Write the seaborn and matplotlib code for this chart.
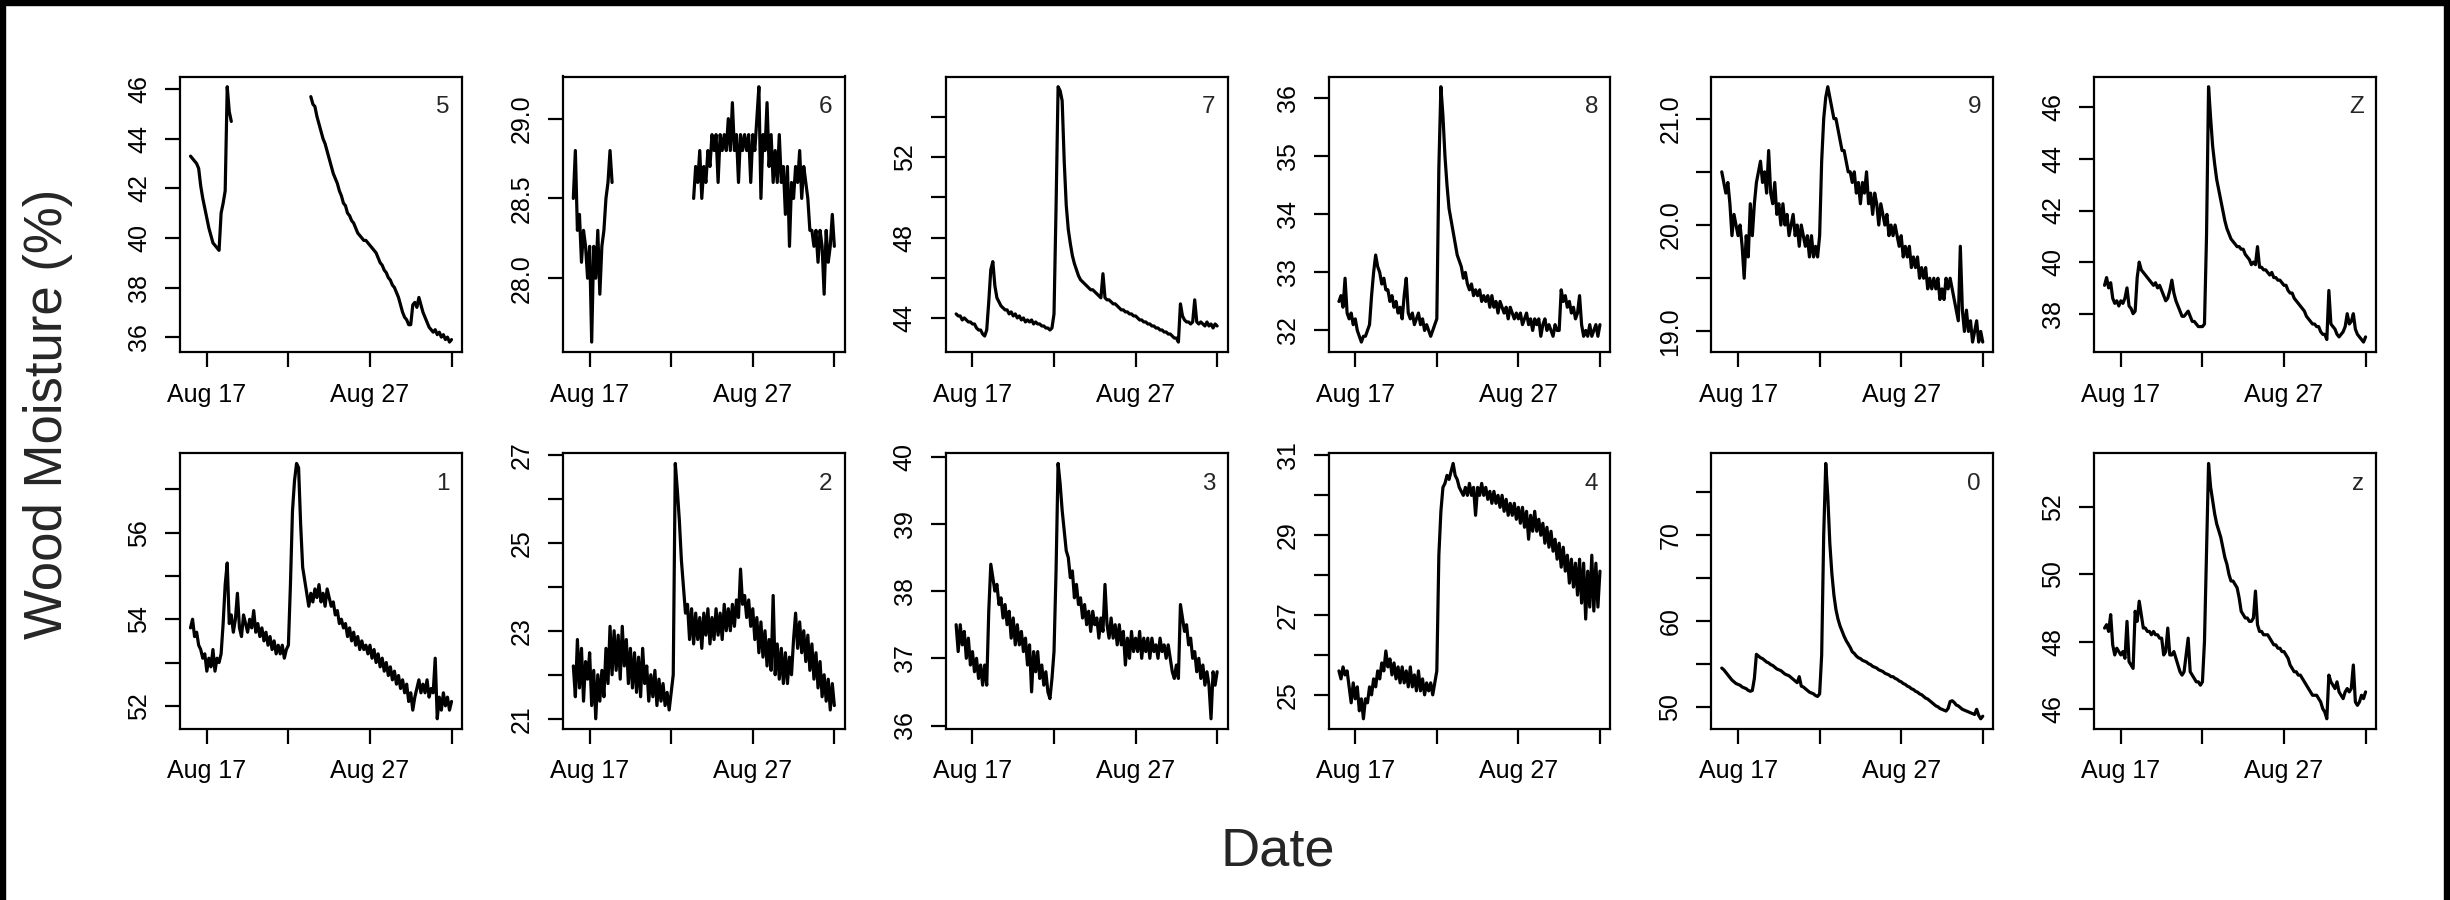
import numpy as np
import pandas as pd
import seaborn as sns
import matplotlib.pyplot as plt
from matplotlib.patches import Rectangle

nan = np.nan

# Sample times: one reading every 3 hours, Aug 16 to Sep 1
start_time = '2015-08-16 00:00'
end_time = '2015-09-01 00:00'
step = '3h'

# Wood moisture (%) per sensor, one row of 8 readings per day
sensor_5 = [
    43.3, 43.2, 43.1, 43.0, 42.8, 42.1, 41.6, 41.2,
    40.8, 40.4, 40.1, 39.8, 39.7, 39.6, 39.5, 41.0,
    41.4, 41.9, 46.1, 45.1, 44.7, nan, nan, nan,
    nan, nan, nan, nan, nan, nan, nan, nan,
    nan, nan, nan, nan, nan, nan, nan, nan,
    nan, nan, nan, nan, nan, nan, nan, nan,
    nan, nan, nan, nan, nan, nan, nan, nan,
    nan, nan, nan, 45.7, 45.4, 45.3, 44.9, 44.6,
    44.3, 44.0, 43.8, 43.5, 43.2, 42.9, 42.6, 42.4,
    42.2, 41.9, 41.7, 41.4, 41.3, 41.0, 40.9, 40.7,
    40.6, 40.4, 40.2, 40.1, 40.0, 39.9, 39.9, 39.8,
    39.7, 39.6, 39.5, 39.4, 39.2, 39.0, 38.9, 38.7,
    38.6, 38.4, 38.3, 38.1, 38.0, 37.8, 37.6, 37.3,
    37.0, 36.8, 36.7, 36.5, 36.5, 37.3, 37.4, 37.2,
    37.6, 37.3, 37.0, 36.8, 36.6, 36.4, 36.3, 36.2,
    36.3, 36.1, 36.2, 36.0, 36.1, 35.9, 36.0, 35.8,
    35.9]

sensor_6 = [
    28.5, 28.8, 28.3, 28.4, 28.1, 28.3, 28.2, 28.0,
    28.2, 27.6, 28.2, 28.0, 28.3, 27.9, 28.2, 28.3,
    28.5, 28.6, 28.8, 28.6, nan, nan, nan, nan,
    nan, nan, nan, nan, nan, nan, nan, nan,
    nan, nan, nan, nan, nan, nan, nan, nan,
    nan, nan, nan, nan, nan, nan, nan, nan,
    nan, nan, nan, nan, nan, nan, nan, nan,
    nan, nan, nan, 28.5, 28.7, 28.6, 28.8, 28.5,
    28.7, 28.6, 28.8, 28.7, 28.9, 28.8, 28.9, 28.6,
    28.9, 28.8, 28.9, 28.8, 29.0, 28.8, 29.1, 28.8,
    28.9, 28.6, 28.9, 28.8, 28.9, 28.8, 28.9, 28.6,
    28.9, 28.8, 29.0, 29.2, 28.5, 28.9, 28.8, 29.1,
    28.7, 28.9, 28.6, 28.8, 28.6, 28.9, 28.6, 28.7,
    28.4, 28.7, 28.2, 28.6, 28.5, 28.7, 28.6, 28.8,
    28.5, 28.7, 28.6, 28.5, 28.3, 28.3, 28.2, 28.3,
    28.1, 28.3, 28.2, 27.9, 28.3, 28.1, 28.2, 28.4,
    28.2]

sensor_7 = [
    44.2, 44.1, 44.1, 43.9, 44.0, 43.9, 43.8, 43.8,
    43.7, 43.7, 43.5, 43.4, 43.4, 43.2, 43.1, 43.4,
    44.8, 46.4, 46.8, 45.6, 45.0, 44.8, 44.6, 44.5,
    44.4, 44.4, 44.2, 44.3, 44.1, 44.2, 44.0, 44.1,
    43.9, 44.0, 43.8, 43.9, 43.8, 43.9, 43.7, 43.8,
    43.7, 43.7, 43.6, 43.6, 43.5, 43.5, 43.4, 43.5,
    44.2, 49.5, 55.5, 55.3, 54.8, 51.8, 49.6, 48.4,
    47.7, 47.1, 46.7, 46.4, 46.1, 45.9, 45.8, 45.7,
    45.6, 45.5, 45.4, 45.4, 45.3, 45.2, 45.1, 45.0,
    46.2, 45.0, 44.9, 44.9, 44.8, 44.7, 44.7, 44.6,
    44.5, 44.4, 44.4, 44.3, 44.3, 44.2, 44.2, 44.1,
    44.1, 44.0, 43.9, 43.9, 43.8, 43.8, 43.7, 43.7,
    43.6, 43.6, 43.5, 43.5, 43.4, 43.4, 43.3, 43.3,
    43.2, 43.2, 43.1, 43.0, 43.0, 42.8, 44.7, 44.1,
    43.9, 43.8, 43.8, 43.7, 43.8, 44.9, 43.8, 43.7,
    43.8, 43.7, 43.6, 43.8, 43.6, 43.7, 43.5, 43.7,
    43.6]

sensor_8 = [
    32.5, 32.6, 32.4, 32.9, 32.3, 32.2, 32.3, 32.1,
    32.2, 32.0, 31.9, 31.8, 31.9, 31.9, 32.0, 32.1,
    32.6, 33.0, 33.3, 33.1, 33.0, 32.8, 32.9, 32.7,
    32.7, 32.5, 32.6, 32.4, 32.5, 32.3, 32.4, 32.2,
    32.6, 32.9, 32.3, 32.2, 32.3, 32.1, 32.2, 32.3,
    32.1, 32.2, 32.0, 32.1, 32.0, 31.9, 32.0, 32.1,
    32.2, 34.8, 36.2, 35.7, 35.0, 34.5, 34.1, 33.9,
    33.7, 33.5, 33.3, 33.2, 33.1, 32.9, 33.0, 32.8,
    32.7, 32.8, 32.6, 32.7, 32.6, 32.7, 32.5, 32.6,
    32.5, 32.6, 32.4, 32.6, 32.4, 32.5, 32.3, 32.5,
    32.4, 32.3, 32.4, 32.2, 32.4, 32.3, 32.2, 32.3,
    32.2, 32.3, 32.1, 32.2, 32.3, 32.1, 32.2, 32.0,
    32.2, 32.1, 32.2, 31.9, 32.1, 32.2, 32.0, 32.1,
    32.0, 31.9, 32.1, 32.0, 32.0, 32.7, 32.5, 32.6,
    32.4, 32.5, 32.3, 32.4, 32.2, 32.3, 32.6, 32.1,
    31.9, 32.0, 31.9, 32.1, 31.9, 32.0, 32.1, 31.9,
    32.1]

sensor_9 = [
    20.5, 20.4, 20.3, 20.4, 20.2, 19.9, 20.1, 20.0,
    19.9, 20.0, 19.8, 19.5, 19.9, 19.7, 20.2, 19.9,
    20.2, 20.4, 20.5, 20.6, 20.4, 20.5, 20.3, 20.7,
    20.3, 20.2, 20.4, 20.1, 20.2, 20.0, 20.2, 20.0,
    20.1, 19.9, 20.0, 20.1, 19.9, 20.0, 19.8, 20.0,
    19.9, 19.8, 19.9, 19.7, 19.9, 19.7, 19.8, 19.7,
    19.9, 20.6, 21.0, 21.2, 21.3, 21.2, 21.1, 21.0,
    21.0, 20.9, 20.8, 20.7, 20.7, 20.6, 20.5, 20.5,
    20.4, 20.5, 20.3, 20.4, 20.2, 20.4, 20.3, 20.5,
    20.2, 20.3, 20.1, 20.3, 20.2, 20.0, 20.2, 20.1,
    20.0, 20.1, 19.9, 20.0, 19.9, 20.0, 19.9, 19.8,
    19.9, 19.7, 19.8, 19.7, 19.8, 19.6, 19.7, 19.6,
    19.7, 19.5, 19.6, 19.5, 19.6, 19.4, 19.5, 19.4,
    19.5, 19.4, 19.5, 19.3, 19.4, 19.3, 19.5, 19.4,
    19.5, 19.4, 19.3, 19.2, 19.1, 19.8, 19.2, 19.0,
    19.2, 19.0, 19.1, 18.9, 19.0, 19.1, 18.9, 19.0,
    18.9]

sensor_Z = [
    39.1, 39.4, 39.0, 39.2, 38.6, 38.4, 38.5, 38.3,
    38.5, 38.4, 38.6, 39.0, 38.3, 38.2, 38.0, 38.1,
    39.4, 40.0, 39.7, 39.6, 39.5, 39.4, 39.3, 39.2,
    39.1, 39.2, 39.0, 39.1, 38.9, 38.7, 38.5, 38.6,
    38.9, 39.3, 38.8, 38.5, 38.3, 38.1, 37.9, 37.9,
    38.0, 38.1, 37.9, 37.7, 37.7, 37.6, 37.5, 37.5,
    37.5, 37.6, 41.0, 46.8, 45.6, 44.5, 43.8, 43.2,
    42.8, 42.4, 42.0, 41.6, 41.3, 41.1, 40.9, 40.8,
    40.7, 40.6, 40.6, 40.5, 40.5, 40.3, 40.2, 40.1,
    39.9, 40.0, 39.9, 40.6, 39.8, 39.8, 39.7, 39.7,
    39.6, 39.5, 39.6, 39.4, 39.4, 39.3, 39.3, 39.2,
    39.1, 39.1, 38.9, 38.8, 38.8, 38.6, 38.5, 38.4,
    38.3, 38.2, 38.1, 37.9, 37.8, 37.7, 37.6, 37.6,
    37.5, 37.5, 37.3, 37.2, 37.2, 37.0, 38.9, 37.6,
    37.5, 37.4, 37.2, 37.1, 37.2, 37.3, 37.5, 38.0,
    37.6, 37.7, 38.0, 37.4, 37.2, 37.1, 37.0, 36.9,
    37.1]

sensor_1 = [
    53.8, 54.0, 53.6, 53.7, 53.4, 53.3, 53.1, 53.2,
    52.8, 53.1, 52.9, 53.3, 52.8, 53.1, 53.0, 53.2,
    53.9, 54.8, 55.3, 53.9, 54.1, 53.7, 54.0, 54.6,
    53.8, 53.6, 54.1, 53.9, 53.7, 54.0, 53.8, 54.2,
    53.7, 53.9, 53.6, 53.8, 53.5, 53.7, 53.4, 53.6,
    53.3, 53.5, 53.2, 53.4, 53.2, 53.4, 53.1, 53.3,
    53.4, 54.8, 56.5, 57.2, 57.6, 57.5, 56.2, 55.2,
    54.9, 54.6, 54.3, 54.6, 54.4, 54.7, 54.5, 54.8,
    54.4, 54.6, 54.3, 54.7, 54.5, 54.3, 54.4, 54.1,
    54.2, 53.9, 54.0, 53.8, 53.9, 53.6, 53.8, 53.5,
    53.7, 53.4, 53.6, 53.3, 53.5, 53.3, 53.4, 53.2,
    53.4, 53.1, 53.3, 53.0, 53.2, 52.9, 53.1, 52.8,
    53.0, 52.7, 52.9, 52.6, 52.8, 52.5, 52.7, 52.4,
    52.6, 52.3, 52.5, 52.1, 52.3, 51.9, 52.2, 52.4,
    52.6, 52.3, 52.5, 52.3, 52.6, 52.2, 52.4, 52.3,
    53.1, 51.7, 52.2, 51.9, 52.3, 52.0, 52.2, 51.9,
    52.1]

sensor_2 = [
    22.2, 21.5, 22.8, 21.7, 22.6, 21.4, 22.3, 21.9,
    22.5, 21.3, 22.1, 21.0, 22.0, 21.4, 22.1, 21.5,
    22.6, 21.8, 23.1, 22.0, 23.0, 22.1, 22.9, 21.9,
    23.1, 22.2, 22.8, 21.8, 22.6, 21.7, 22.5, 21.6,
    22.4, 21.5, 22.6, 21.8, 22.2, 21.4, 22.0, 21.5,
    22.1, 21.3, 21.9, 21.4, 21.8, 21.3, 21.6, 21.2,
    21.6, 22.0, 26.8, 26.2, 25.5, 24.6, 24.0, 23.4,
    23.6, 22.8, 23.5, 22.7, 23.4, 22.8, 23.3, 22.6,
    23.4, 22.9, 23.5, 22.7, 23.3, 22.8, 23.5, 22.9,
    23.4, 22.8, 23.6, 23.0, 23.5, 23.0, 23.6, 23.1,
    23.7, 23.3, 24.4, 23.6, 23.8, 23.3, 23.7, 23.1,
    23.5, 22.8, 23.3, 22.5, 23.2, 22.4, 23.0, 22.2,
    22.8, 22.1, 23.8, 22.0, 22.7, 21.9, 22.6, 21.8,
    22.5, 21.8, 22.4, 22.0, 22.8, 23.4, 22.6, 23.2,
    22.5, 23.0, 22.3, 22.9, 22.1, 22.7, 21.9, 22.5,
    21.7, 22.3, 21.5, 22.0, 21.4, 21.9, 21.2, 21.8,
    21.3]

sensor_3 = [
    37.5, 37.1, 37.5, 37.2, 37.4, 37.0, 37.3, 36.9,
    37.1, 36.8, 37.0, 36.7, 36.9, 36.6, 36.9, 36.6,
    37.7, 38.4, 38.2, 38.0, 38.1, 37.8, 37.9, 37.6,
    37.8, 37.5, 37.7, 37.3, 37.6, 37.2, 37.5, 37.2,
    37.4, 37.1, 37.3, 36.9, 37.2, 36.5, 37.1, 36.8,
    37.1, 36.7, 36.9, 36.6, 36.8, 36.5, 36.4, 36.7,
    37.1, 38.3, 39.9, 39.6, 39.2, 38.9, 38.6, 38.5,
    38.2, 38.3, 37.9, 38.1, 37.8, 37.9, 37.6, 37.8,
    37.5, 37.7, 37.4, 37.7, 37.5, 37.6, 37.3, 37.6,
    37.4, 38.1, 37.5, 37.3, 37.6, 37.3, 37.5, 37.2,
    37.5, 37.2, 37.4, 36.9, 37.3, 37.0, 37.4, 37.1,
    37.3, 37.1, 37.4, 37.0, 37.3, 37.1, 37.3, 37.0,
    37.3, 37.1, 37.2, 37.0, 37.3, 37.1, 37.2, 37.0,
    37.2, 37.0, 36.8, 36.7, 36.9, 36.7, 37.8, 37.6,
    37.4, 37.5, 37.2, 37.3, 37.0, 37.1, 36.8, 37.0,
    36.7, 36.9, 36.6, 36.8, 36.6, 36.1, 36.8, 36.6,
    36.8]

sensor_4 = [
    25.6, 25.4, 25.7, 25.5, 25.6, 25.2, 24.8, 25.3,
    24.9, 25.2, 24.6, 24.9, 24.4, 24.9, 24.8, 25.2,
    25.0, 25.4, 25.2, 25.6, 25.4, 25.8, 25.6, 26.1,
    25.7, 25.9, 25.5, 25.8, 25.4, 25.7, 25.3, 25.7,
    25.3, 25.6, 25.2, 25.7, 25.2, 25.5, 25.1, 25.6,
    25.1, 25.4, 25.0, 25.3, 25.1, 25.3, 25.0, 25.3,
    25.6, 28.5, 29.6, 30.2, 30.3, 30.5, 30.4, 30.6,
    30.8, 30.5, 30.4, 30.2, 30.1, 30.0, 30.2, 30.0,
    30.3, 30.0, 30.2, 29.5, 30.2, 30.0, 30.3, 30.0,
    30.2, 29.9, 30.1, 29.8, 30.1, 29.8, 30.0, 29.7,
    30.0, 29.6, 29.9, 29.5, 29.8, 29.5, 29.8, 29.4,
    29.7, 29.3, 29.7, 29.2, 29.6, 28.9, 29.5, 29.1,
    29.6, 29.1, 29.4, 29.0, 29.3, 28.8, 29.2, 28.7,
    29.1, 28.6, 28.9, 28.4, 28.8, 28.2, 28.7, 28.1,
    28.5, 27.8, 28.4, 27.7, 28.3, 27.5, 28.4, 27.3,
    28.3, 26.9, 28.1, 27.2, 28.5, 27.1, 28.3, 27.2,
    28.1]

sensor_0 = [
    54.5, 54.3, 54.0, 53.7, 53.4, 53.1, 52.9, 52.7,
    52.6, 52.5, 52.3, 52.2, 52.1, 51.9, 51.8, 51.9,
    53.3, 56.1, 55.9, 55.7, 55.6, 55.4, 55.2, 55.1,
    54.9, 54.8, 54.6, 54.4, 54.3, 54.2, 54.0, 53.8,
    53.7, 53.6, 53.4, 53.2, 53.0, 52.8, 53.5, 52.4,
    52.3, 52.1, 51.9, 51.7, 51.6, 51.5, 51.3, 51.2,
    51.5, 56.0, 70.0, 78.3, 74.5, 69.0, 65.5, 63.0,
    61.3, 60.2, 59.4, 58.8, 58.2, 57.7, 57.3, 56.9,
    56.4, 56.2, 55.9, 55.7, 55.6, 55.4, 55.3, 55.2,
    55.0, 54.9, 54.7, 54.6, 54.5, 54.3, 54.2, 54.1,
    53.9, 53.8, 53.7, 53.5, 53.5, 53.3, 53.2, 53.0,
    52.9, 52.7, 52.6, 52.4, 52.3, 52.1, 52.0, 51.8,
    51.7, 51.5, 51.4, 51.2, 51.0, 50.9, 50.7, 50.5,
    50.3, 50.1, 50.0, 49.8, 49.7, 49.6, 49.5, 49.8,
    50.6, 50.7, 50.5, 50.2, 50.1, 49.9, 49.7, 49.6,
    49.5, 49.4, 49.3, 49.2, 49.1, 49.7, 49.0, 48.6,
    48.9]

sensor_z = [
    48.4, 48.5, 48.3, 48.8, 47.9, 47.6, 47.8, 47.7,
    47.6, 47.7, 47.5, 48.6, 47.4, 47.3, 47.2, 48.9,
    48.6, 49.2, 48.8, 48.4, 48.4, 48.3, 48.3, 48.2,
    48.3, 48.2, 48.2, 48.1, 48.1, 47.6, 47.7, 48.4,
    47.6, 47.6, 47.7, 47.5, 47.3, 47.1, 47.0, 47.1,
    47.6, 48.1, 47.1, 47.0, 46.9, 46.8, 46.8, 46.7,
    46.8, 48.0, 50.6, 53.3, 52.6, 52.2, 51.8, 51.5,
    51.3, 51.1, 50.8, 50.5, 50.3, 50.0, 49.8, 49.8,
    49.7, 49.6, 49.3, 48.9, 48.8, 48.7, 48.7, 48.6,
    48.6, 48.7, 49.5, 48.5, 48.3, 48.3, 48.2, 48.2,
    48.2, 48.1, 48.0, 47.9, 47.9, 47.8, 47.8, 47.7,
    47.7, 47.6, 47.5, 47.3, 47.2, 47.1, 47.1, 47.0,
    47.0, 46.9, 46.8, 46.7, 46.6, 46.5, 46.4, 46.4,
    46.4, 46.3, 46.2, 46.0, 45.9, 45.7, 47.0, 46.8,
    46.7, 46.6, 46.8, 46.5, 46.4, 46.3, 46.5, 46.6,
    46.5, 46.6, 47.3, 46.2, 46.1, 46.2, 46.4, 46.3,
    46.5]

panel_labels = ['5', '6', '7', '8', '9', 'Z', '1', '2', '3', '4', '0', 'z']

# y ticks per panel and their printed labels (R skips some labels)
y_ticks = [
    [36, 38, 40, 42, 44, 46],
    [28.0, 28.5, 29.0],
    [44, 46, 48, 50, 52, 54],
    [32, 33, 34, 35, 36],
    [19.0, 19.5, 20.0, 20.5, 21.0],
    [38, 40, 42, 44, 46],
    [52, 53, 54, 55, 56, 57],
    [21, 22, 23, 24, 25, 26, 27],
    [36, 37, 38, 39, 40],
    [25, 26, 27, 28, 29, 30, 31],
    [50, 55, 60, 65, 70, 75],
    [46, 48, 50, 52],
]
y_tick_labels = [
    ['36', '38', '40', '42', '44', '46'],
    ['28.0', '28.5', '29.0'],
    ['44', '', '48', '', '52', ''],
    ['32', '33', '34', '35', '36'],
    ['19.0', '', '20.0', '', '21.0'],
    ['38', '40', '42', '44', '46'],
    ['52', '', '54', '', '56', ''],
    ['21', '', '23', '', '25', '', '27'],
    ['36', '37', '38', '39', '40'],
    ['25', '', '27', '', '29', '', '31'],
    ['50', '', '60', '', '70', ''],
    ['46', '48', '50', '52'],
]

x_tick_dates = ['2015-08-17', '2015-08-22', '2015-08-27', '2015-09-01']
x_tick_labels = ['Aug 17', '', 'Aug 27', '']

series = [sensor_5, sensor_6, sensor_7, sensor_8, sensor_9, sensor_Z,
          sensor_1, sensor_2, sensor_3, sensor_4, sensor_0, sensor_z]

times = pd.date_range(start_time, end_time, freq=step)

sns.set_style('ticks')
plt.rcParams['font.family'] = ['Liberation Sans', 'DejaVu Sans']
plt.rcParams['axes.edgecolor'] = 'black'
plt.rcParams['axes.linewidth'] = 1.6

fig, axes = plt.subplots(2, 6, figsize=(24.5, 9), dpi=100)
fig.subplots_adjust(left=0.0735, right=0.9698, bottom=0.19, top=0.915,
                    wspace=0.358, hspace=0.366)

for ax, label, values, ticks, tlabels in zip(axes.flat, panel_labels, series,
                                             y_ticks, y_tick_labels):
    df = pd.DataFrame({'time': times, 'moisture': values})
    # split the record where readings are missing
    df['segment'] = df['moisture'].isna().cumsum()
    df = df.dropna()
    sns.lineplot(data=df, x='time', y='moisture', units='segment',
                 estimator=None, color='black', linewidth=2.3, ax=ax)
    ax.margins(x=0.04, y=0.04)
    ax.set_xlabel('')
    ax.set_ylabel('')
    ax.set_xticks(pd.to_datetime(x_tick_dates))
    ax.set_xticklabels(x_tick_labels)
    ax.set_yticks(ticks)
    ax.set_yticklabels(tlabels)
    ax.tick_params(axis='both', direction='out', length=10.8, width=1.6,
                   labelsize=18, color='black', labelcolor='black')
    ax.tick_params(axis='x', pad=11)
    ax.tick_params(axis='y', pad=10)
    plt.setp(ax.get_yticklabels(), rotation=90, va='center')
    for side in ax.spines.values():
        side.set_visible(True)
        side.set_linewidth(1.6)
    ax.text(0.957, 0.89, label, transform=ax.transAxes, ha='right',
            va='center', fontsize=17.5)

fig.text(0.0195, 0.54, 'Wood Moisture (%)', rotation=90, ha='center',
         va='center', fontsize=38)
fig.text(0.5216, 0.054, 'Date', ha='center', va='center', fontsize=39)

# black frame strips along the image edges
fig.add_artist(Rectangle((0, 0), 5 / 2450, 1, transform=fig.transFigure,
                         color='black'))
fig.add_artist(Rectangle((1 - 6 / 2450, 0), 6 / 2450, 1,
                         transform=fig.transFigure, color='black'))
fig.add_artist(Rectangle((0, 1 - 5 / 900), 1, 5 / 900,
                         transform=fig.transFigure, color='black'))

plt.savefig('out.png', dpi=100)
